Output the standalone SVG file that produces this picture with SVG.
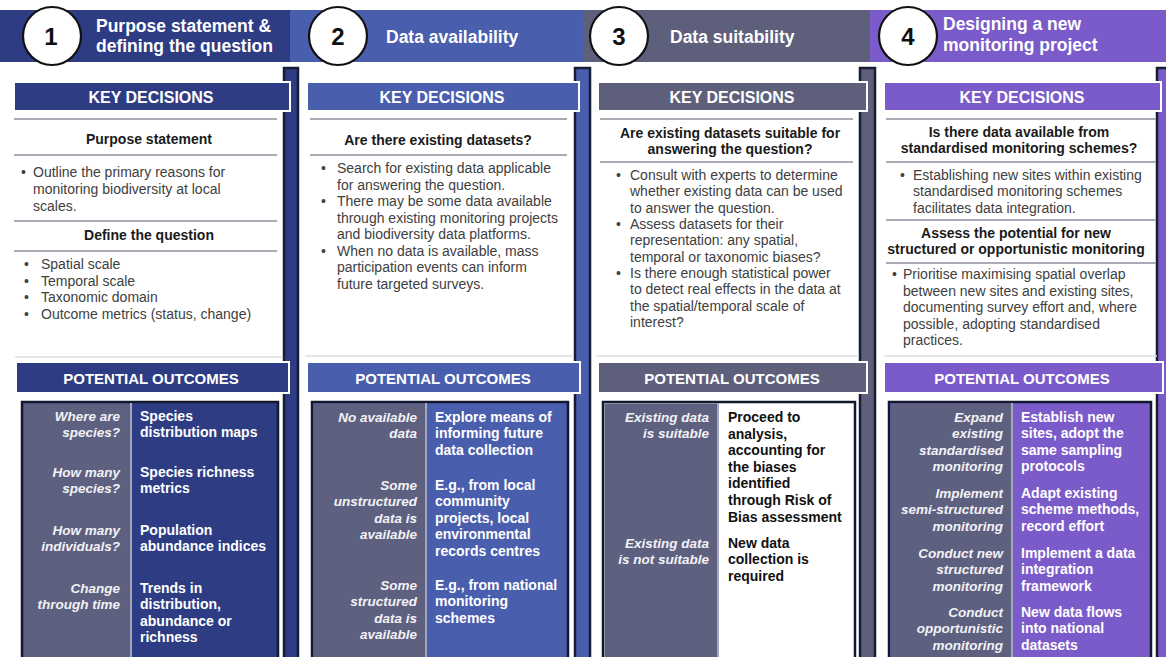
<svg xmlns="http://www.w3.org/2000/svg" width="1166" height="657" viewBox="0 0 1166 657">
  <style>
    .title { font-family: "Liberation Sans", Arial, sans-serif; font-weight: bold; font-size: 17.5px; fill: #ffffff; }
    .num { font-family: "Liberation Sans", Arial, sans-serif; font-weight: bold; font-size: 24px; fill: #111111; text-anchor: middle; }
    .band-label { font-family: "Liberation Sans", Arial, sans-serif; font-weight: bold; fill: #ffffff; text-anchor: middle; }
    .kd { font-size: 16px; }
    .po { font-size: 15px; }
    .head { font-family: "Liberation Sans", Arial, sans-serif; font-weight: bold; font-size: 14px; fill: #1a1a1a; text-anchor: middle; }
    .body { font-family: "Liberation Sans", Arial, sans-serif; font-size: 14px; fill: #404040; }
    .q { font-family: "Liberation Sans", Arial, sans-serif; font-weight: bold; font-style: italic; font-size: 13.5px; fill: #f2f2f6; text-anchor: end; }
    .a { font-family: "Liberation Sans", Arial, sans-serif; font-weight: bold; font-size: 14px; fill: #ffffff; }
    .a-dark { fill: #111111; }
    .sep { stroke: #a9abb6; stroke-width: 2; }
    .panel-edge { stroke: #dcdde3; stroke-width: 1.5; }
    .spine { stroke: #181d36; stroke-width: 2.5; }
    .band { stroke: #ffffff; stroke-width: 2; }
    .table { stroke: #14182c; stroke-width: 2.5; }
    .qcol { fill: #5e6080; }
    .divider { stroke: #a3a6bc; stroke-width: 2; }
    .badge { fill: #ffffff; stroke: #111111; stroke-width: 2.2; }
    .c1 { fill: #2e3c84; }
    .c2 { fill: #4a5eae; }
    .c3 { fill: #5e607b; }
    .c4 { fill: #7b5bc9; }
  </style>

  <rect width="1166" height="657" fill="#ffffff"/>

  <!-- top title strip -->
  <g id="title-strip">
    <rect class="c1" x="0" y="10" width="290" height="52"/>
    <rect class="c2" x="290" y="10" width="293" height="52"/>
    <rect class="c3" x="583" y="10" width="287" height="52"/>
    <rect class="c4" x="870" y="10" width="296" height="52"/>
  </g>

  <!-- vertical spines along the right side of each column -->
  <g id="spines">
    <rect class="c1 spine" x="284" y="68" width="14" height="600"/>
    <rect class="c2 spine" x="575" y="68" width="15" height="600"/>
    <rect class="c3 spine" x="860" y="68" width="15" height="600"/>
    <rect class="c4 spine" x="1157" y="68" width="15" height="600"/>
  </g>

  <!-- ===== Column 1 ===== -->
  <g id="col-1">
    <circle class="badge" cx="52" cy="36" r="29"/>
    <text class="num" x="51" y="45">1</text>
    <text class="title" x="96" y="32">Purpose statement &amp;</text>
    <text class="title" x="96" y="52">defining the question</text>

    <rect class="c1 band" x="14" y="82" width="276" height="29"/>
    <text class="band-label kd" x="151" y="103">KEY DECISIONS</text>

    <line class="sep" x1="14" y1="119" x2="277" y2="119"/>
    <text class="head" x="149" y="144">Purpose statement</text>
    <line class="sep" x1="14" y1="155" x2="277" y2="155"/>
    <text class="body" x="21" y="177">•</text>
    <text class="body" x="33" y="177">Outline the primary reasons for<tspan x="33" dy="17">monitoring biodiversity at local</tspan><tspan x="33" dy="17">scales.</tspan></text>
    <line class="sep" x1="14" y1="221" x2="277" y2="221"/>
    <text class="head" x="149" y="240">Define the question</text>
    <line class="sep" x1="14" y1="251" x2="277" y2="251"/>
    <text class="body" x="24" y="269">•<tspan x="24" dy="16.7">•</tspan><tspan x="24" dy="16.7">•</tspan><tspan x="24" dy="16.7">•</tspan></text>
    <text class="body" x="41" y="269">Spatial scale<tspan x="41" dy="16.7">Temporal scale</tspan><tspan x="41" dy="16.7">Taxonomic domain</tspan><tspan x="41" dy="16.7">Outcome metrics (status, change)</tspan></text>
    <line class="panel-edge" x1="15" y1="357" x2="283" y2="357"/>

    <rect class="c1 band" x="16" y="362" width="273" height="31"/>
    <text class="band-label po" x="151" y="384">POTENTIAL OUTCOMES</text>

    <rect class="c1 table" x="22" y="402" width="256" height="270"/>
    <rect class="qcol" x="23.5" y="403.5" width="107" height="267"/>
    <line class="divider" x1="131" y1="403" x2="131" y2="670"/>
    <text class="q" x="120" y="421">Where are<tspan x="120" dy="16.4">species?</tspan></text>
    <text class="q" x="120" y="477">How many<tspan x="120" dy="16.4">species?</tspan></text>
    <text class="q" x="120" y="535">How many<tspan x="120" dy="16.4">individuals?</tspan></text>
    <text class="q" x="120" y="593">Change<tspan x="120" dy="16.4">through time</tspan></text>
    <text class="a" x="140" y="421">Species<tspan x="140" dy="16.4">distribution maps</tspan></text>
    <text class="a" x="140" y="477">Species richness<tspan x="140" dy="16.4">metrics</tspan></text>
    <text class="a" x="140" y="535">Population<tspan x="140" dy="16.4">abundance indices</tspan></text>
    <text class="a" x="140" y="593">Trends in<tspan x="140" dy="16.4">distribution,</tspan><tspan x="140" dy="16.4">abundance or</tspan><tspan x="140" dy="16.4">richness</tspan></text>
  </g>

  <!-- ===== Column 2 ===== -->
  <g id="col-2">
    <circle class="badge" cx="338" cy="36" r="29"/>
    <text class="num" x="338" y="45">2</text>
    <text class="title" x="386" y="43">Data availability</text>

    <rect class="c2 band" x="307" y="82" width="272" height="29"/>
    <text class="band-label kd" x="442" y="103">KEY DECISIONS</text>

    <line class="sep" x1="310" y1="119" x2="567" y2="119"/>
    <text class="head" x="438" y="145">Are there existing datasets?</text>
    <line class="sep" x1="310" y1="155" x2="567" y2="155"/>
    <text class="body" x="321" y="173">•</text>
    <text class="body" x="321" y="206">•</text>
    <text class="body" x="321" y="255.5">•</text>
    <text class="body" x="337" y="173">Search for existing data applicable<tspan x="337" dy="16.5">for answering the question.</tspan><tspan x="337" dy="16.5">There may be some data available</tspan><tspan x="337" dy="16.5">through existing monitoring projects</tspan><tspan x="337" dy="16.5">and biodiversity data platforms.</tspan><tspan x="337" dy="16.5">When no data is available, mass</tspan><tspan x="337" dy="16.5">participation events can inform</tspan><tspan x="337" dy="16.5">future targeted surveys.</tspan></text>
    <line class="panel-edge" x1="305" y1="356" x2="574" y2="356"/>

    <rect class="c2 band" x="307" y="362" width="273" height="31"/>
    <text class="band-label po" x="443" y="384">POTENTIAL OUTCOMES</text>

    <rect class="c2 table" x="312" y="402" width="256" height="270"/>
    <rect class="qcol" x="313.5" y="403.5" width="112" height="267"/>
    <line class="divider" x1="426" y1="403" x2="426" y2="670"/>
    <text class="q" x="417" y="422">No available<tspan x="417" dy="16.4">data</tspan></text>
    <text class="q" x="417" y="490">Some<tspan x="417" dy="16.4">unstructured</tspan><tspan x="417" dy="16.4">data is</tspan><tspan x="417" dy="16.4">available</tspan></text>
    <text class="q" x="417" y="590">Some<tspan x="417" dy="16.4">structured</tspan><tspan x="417" dy="16.4">data is</tspan><tspan x="417" dy="16.4">available</tspan></text>
    <text class="a" x="435" y="422">Explore means of<tspan x="435" dy="16.4">informing future</tspan><tspan x="435" dy="16.4">data collection</tspan></text>
    <text class="a" x="435" y="490">E.g., from local<tspan x="435" dy="16.4">community</tspan><tspan x="435" dy="16.4">projects, local</tspan><tspan x="435" dy="16.4">environmental</tspan><tspan x="435" dy="16.4">records centres</tspan></text>
    <text class="a" x="435" y="590">E.g., from national<tspan x="435" dy="16.4">monitoring</tspan><tspan x="435" dy="16.4">schemes</tspan></text>
  </g>

  <!-- ===== Column 3 ===== -->
  <g id="col-3">
    <circle class="badge" cx="619" cy="36" r="29"/>
    <text class="num" x="619" y="45">3</text>
    <text class="title" x="670" y="43">Data suitability</text>

    <rect class="c3 band" x="598" y="82" width="269" height="29"/>
    <text class="band-label kd" x="732" y="103">KEY DECISIONS</text>

    <line class="sep" x1="600" y1="119" x2="853" y2="119"/>
    <text class="head" x="730" y="138">Are existing datasets suitable for<tspan x="730" dy="16">answering the question?</tspan></text>
    <line class="sep" x1="600" y1="162" x2="853" y2="162"/>
    <text class="body" x="616" y="180">•</text>
    <text class="body" x="616" y="229">•</text>
    <text class="body" x="616" y="278">•</text>
    <text class="body" x="630" y="180">Consult with experts to determine<tspan x="630" dy="16.35">whether existing data can be used</tspan><tspan x="630" dy="16.35">to answer the question.</tspan><tspan x="630" dy="16.35">Assess datasets for their</tspan><tspan x="630" dy="16.35">representation: any spatial,</tspan><tspan x="630" dy="16.35">temporal or taxonomic biases?</tspan><tspan x="630" dy="16.35">Is there enough statistical power</tspan><tspan x="630" dy="16.35">to detect real effects in the data at</tspan><tspan x="630" dy="16.35">the spatial/temporal scale of</tspan><tspan x="630" dy="16.35">interest?</tspan></text>
    <line class="panel-edge" x1="596" y1="356" x2="859" y2="356"/>

    <rect class="c3 band" x="598" y="362" width="269" height="31"/>
    <text class="band-label po" x="732" y="384">POTENTIAL OUTCOMES</text>

    <rect class="table" x="603" y="402" width="252" height="270" fill="#ffffff"/>
    <rect class="qcol" x="604.5" y="403.5" width="113" height="267"/>
    <line class="divider" x1="718" y1="403" x2="718" y2="670"/>
    <text class="q" x="709" y="422">Existing data<tspan x="709" dy="16.4">is suitable</tspan></text>
    <text class="q" x="709" y="548">Existing data<tspan x="709" dy="16.4">is not suitable</tspan></text>
    <text class="a a-dark" x="728" y="422">Proceed to<tspan x="728" dy="16.6">analysis,</tspan><tspan x="728" dy="16.6">accounting for</tspan><tspan x="728" dy="16.6">the biases</tspan><tspan x="728" dy="16.6">identified</tspan><tspan x="728" dy="16.6">through Risk of</tspan><tspan x="728" dy="16.6">Bias assessment</tspan></text>
    <text class="a a-dark" x="728" y="548">New data<tspan x="728" dy="16.4">collection is</tspan><tspan x="728" dy="16.4">required</tspan></text>
  </g>

  <!-- ===== Column 4 ===== -->
  <g id="col-4">
    <circle class="badge" cx="908" cy="36" r="29"/>
    <text class="num" x="908" y="45">4</text>
    <text class="title" x="943" y="30">Designing a new</text>
    <text class="title" x="943" y="51">monitoring project</text>

    <rect class="c4 band" x="884" y="82" width="277" height="29"/>
    <text class="band-label kd" x="1022" y="103">KEY DECISIONS</text>

    <line class="sep" x1="886" y1="119" x2="1156" y2="119"/>
    <text class="head" x="1019" y="137">Is there data available from<tspan x="1019" dy="16">standardised monitoring schemes?</tspan></text>
    <line class="sep" x1="886" y1="162" x2="1156" y2="162"/>
    <text class="body" x="900" y="180">•</text>
    <text class="body" x="913" y="180">Establishing new sites within existing<tspan x="913" dy="16.3">standardised monitoring schemes</tspan><tspan x="913" dy="16.3">facilitates data integration.</tspan></text>
    <line class="sep" x1="886" y1="220" x2="1156" y2="220"/>
    <text class="head" x="1016" y="238">Assess the potential for new<tspan x="1016" dy="16">structured or opportunistic monitoring</tspan></text>
    <line class="sep" x1="886" y1="263" x2="1156" y2="263"/>
    <text class="body" x="892" y="279">•</text>
    <text class="body" x="903" y="279">Prioritise maximising spatial overlap<tspan x="903" dy="16.5">between new sites and existing sites,</tspan><tspan x="903" dy="16.5">documenting survey effort and, where</tspan><tspan x="903" dy="16.5">possible, adopting standardised</tspan><tspan x="903" dy="16.5">practices.</tspan></text>
    <line class="panel-edge" x1="884" y1="356" x2="1157" y2="356"/>

    <rect class="c4 band" x="884" y="362" width="279" height="31"/>
    <text class="band-label po" x="1022" y="384">POTENTIAL OUTCOMES</text>

    <rect class="c4 table" x="889" y="402" width="262" height="270"/>
    <rect class="qcol" x="890.5" y="403.5" width="121" height="267"/>
    <line class="divider" x1="1012" y1="403" x2="1012" y2="670"/>
    <text class="q" x="1003" y="422">Expand<tspan x="1003" dy="16.4">existing</tspan><tspan x="1003" dy="16.4">standardised</tspan><tspan x="1003" dy="16.4">monitoring</tspan></text>
    <text class="q" x="1003" y="498">Implement<tspan x="1003" dy="16.4">semi-structured</tspan><tspan x="1003" dy="16.4">monitoring</tspan></text>
    <text class="q" x="1003" y="558">Conduct new<tspan x="1003" dy="16.4">structured</tspan><tspan x="1003" dy="16.4">monitoring</tspan></text>
    <text class="q" x="1003" y="617">Conduct<tspan x="1003" dy="16.4">opportunistic</tspan><tspan x="1003" dy="16.4">monitoring</tspan></text>
    <text class="a" x="1021" y="422">Establish new<tspan x="1021" dy="16.4">sites, adopt the</tspan><tspan x="1021" dy="16.4">same sampling</tspan><tspan x="1021" dy="16.4">protocols</tspan></text>
    <text class="a" x="1021" y="498">Adapt existing<tspan x="1021" dy="16.4">scheme methods,</tspan><tspan x="1021" dy="16.4">record effort</tspan></text>
    <text class="a" x="1021" y="558">Implement a data<tspan x="1021" dy="16.4">integration</tspan><tspan x="1021" dy="16.4">framework</tspan></text>
    <text class="a" x="1021" y="617">New data flows<tspan x="1021" dy="16.4">into national</tspan><tspan x="1021" dy="16.4">datasets</tspan></text>
  </g>

  <!-- no connectors in this figure -->
  <g id="connectors"/>
</svg>
